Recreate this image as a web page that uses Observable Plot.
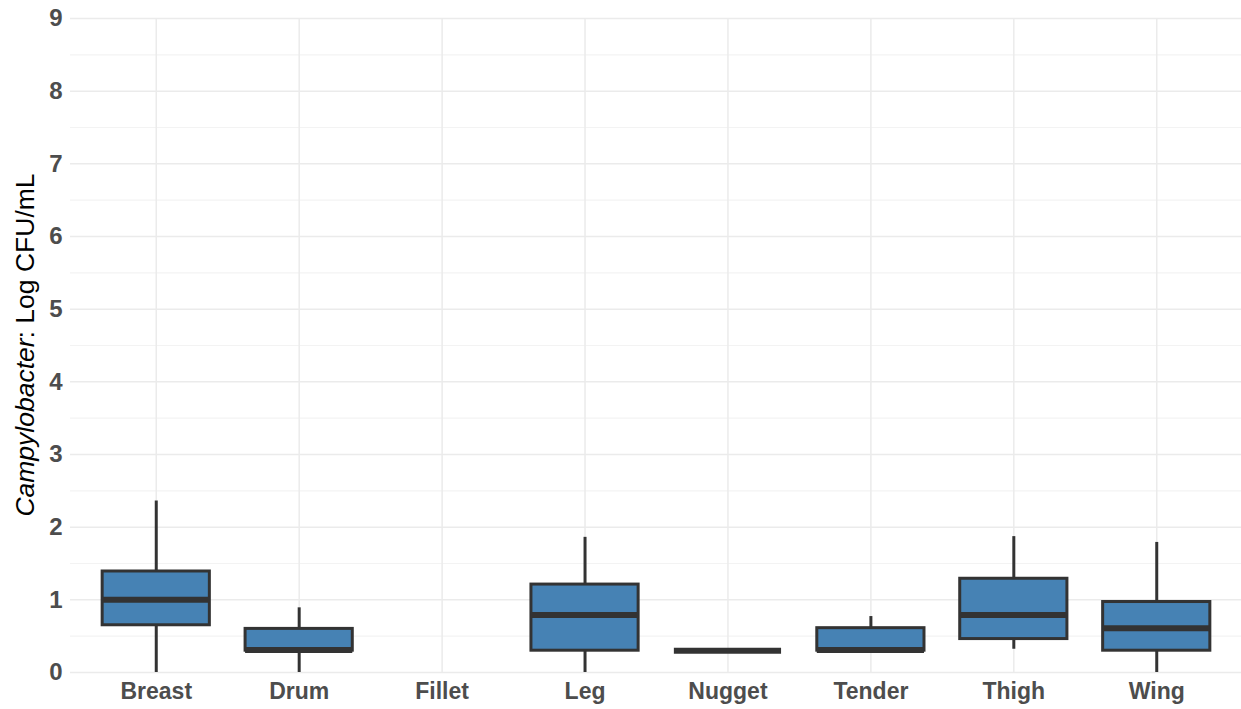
<!DOCTYPE html>
<html>
<head>
<meta charset="utf-8">
<script src="https://cdn.jsdelivr.net/npm/d3@7"></script>
<script src="https://cdn.jsdelivr.net/npm/@observablehq/plot@0.6"></script>
<style>
  html, body { margin: 0; padding: 0; background: #ffffff; }
  #chart svg { display: block; }
</style>
</head>
<body>
<div id="chart"></div>
<script>
// Campylobacter counts (Log CFU/mL) by chicken part: box-plot summaries
const categories = ["Breast", "Drum", "Fillet", "Leg", "Nugget", "Tender", "Thigh", "Wing"];
const whiskerLow  = [0.00, 0.00, null, 0.00, 0.30, 0.30, 0.32, 0.00];
const quartile1   = [0.65, 0.30, null, 0.30, 0.30, 0.30, 0.46, 0.30];
const medians     = [1.00, 0.31, null, 0.79, 0.30, 0.31, 0.79, 0.61];
const quartile3   = [1.39, 0.60, null, 1.21, 0.30, 0.61, 1.29, 0.97];
const whiskerHigh = [2.36, 0.89, null, 1.86, 0.30, 0.77, 1.87, 1.79];
const yTicks = [0, 1, 2, 3, 4, 5, 6, 7, 8, 9];

const rows = categories
  .map((cat, i) => ({
    cat,
    lo: whiskerLow[i],
    q1: quartile1[i],
    med: medians[i],
    q3: quartile3[i],
    hi: whiskerHigh[i]
  }))
  .filter(d => d.med != null);

const minorTicks = yTicks.slice(0, -1).map(t => t + 0.5);

const boxStroke = "#333333";
const gridColor = "#EBEBEB";

const svg = Plot.plot({
  width: 1241,
  height: 709,
  marginLeft: 70,
  marginRight: 0,
  marginTop: 18,
  marginBottom: 37,
  style: {
    fontFamily: "'Liberation Sans', Arial, sans-serif",
    background: "#ffffff",
    overflow: "visible"
  },
  x: {
    type: "band",
    domain: categories,
    range: [70, 1242],
    round: false,
    paddingInner: 0.25,
    paddingOuter: 0.225,
    label: null
  },
  y: {
    domain: [0, 9],
    label: null
  },
  marks: [
    // panel grid
    Plot.ruleY(minorTicks, {stroke: "#F3F3F3", strokeWidth: 1.2}),
    Plot.ruleY(yTicks, {stroke: gridColor, strokeWidth: 1.5}),
    Plot.ruleX(categories, {x: d => d, stroke: gridColor, strokeWidth: 1.5}),
    // axes
    Plot.axisY({
      ticks: yTicks,
      tickSize: 0,
      tickPadding: 8,
      tickFormat: d3.format("d"),
      fontSize: 24,
      fontWeight: "bold",
      fill: "#4D4D4D",
      label: null
    }),
    Plot.axisX({
      tickSize: 0,
      tickPadding: 10,
      fontSize: 23,
      fontWeight: "bold",
      fill: "#4D4D4D",
      label: null
    }),
    // whiskers
    Plot.ruleX(rows, {x: "cat", y1: "lo", y2: "q1", stroke: boxStroke, strokeWidth: 3}),
    Plot.ruleX(rows, {x: "cat", y1: "q3", y2: "hi", stroke: boxStroke, strokeWidth: 3}),
    // boxes
    Plot.barY(rows, {x: "cat", y1: "q1", y2: "q3", fill: "#4682B4", stroke: boxStroke, strokeWidth: 3}),
    // medians
    Plot.tickY(rows, {x: "cat", y: "med", stroke: boxStroke, strokeWidth: 6})
  ]
});

// y-axis title with the genus name in italics
const title = d3.select(svg).append("text")
  .attr("transform", "translate(34,345) rotate(-90)")
  .attr("text-anchor", "middle")
  .attr("font-family", "'Liberation Sans', Arial, sans-serif")
  .attr("font-size", 26.5)
  .attr("fill", "#000000");
title.append("tspan").attr("font-style", "italic").text("Campylobacter");
title.append("tspan").text(": Log CFU/mL");

document.getElementById("chart").appendChild(svg);
</script>
</body>
</html>
